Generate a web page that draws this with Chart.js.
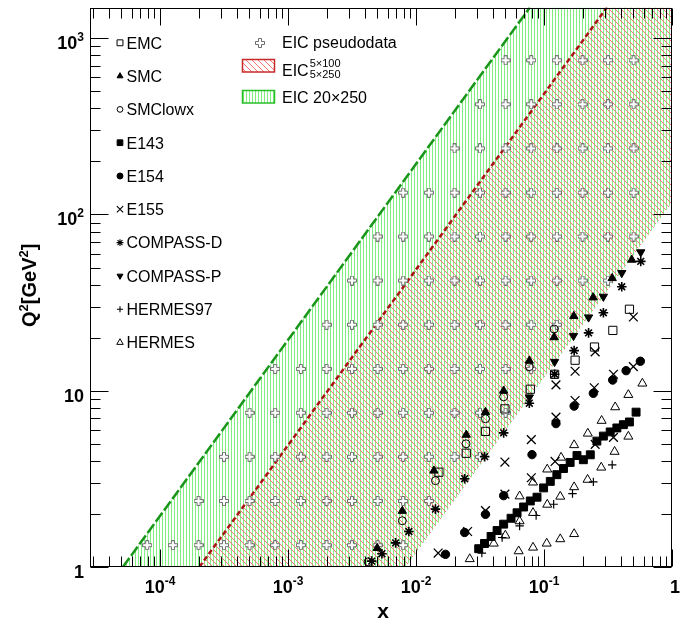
<!DOCTYPE html>
<html><head><meta charset="utf-8">
<script src="https://cdn.jsdelivr.net/npm/chart.js@4.4.1/dist/chart.umd.min.js"></script>
<style>html,body{margin:0;padding:0;background:#fff;}canvas{display:block;}</style>
</head><body>
<canvas id="c" width="695" height="626" style="width:695px;height:626px"></canvas>
<script>
// ---- axis ranges ----
const xMin = 2.84e-5, xMax = 1;
const yMin = 1, yMax = 1494;
const xTickVals = [1e-4, 1e-3, 1e-2, 1e-1, 1];
const xTickBase = ['10', '10', '10', '10', '1'];
const xTickExp  = ['-4', '-3', '-2', '-1', ''];
const yTickVals = [1, 10, 100, 1000];
const yTickBase = ['1', '10', '10', '10'];
const yTickExp  = ['', '', '2', '3'];

// ---- EIC bands (vertices) ----
const greenEdgeX = [5.13e-5, 0.0775], greenEdgeQ2 = [1, 1494];
const redEdgeX = [2.03e-4, 0.31],  redEdgeQ2 = [1, 1494];
const cornerX = [1], cornerQ2 = [1494];
const lowEdgeX = [1, 0.0083], lowEdgeQ2 = [117, 1];

// ---- EIC pseudodata grid ----
const pseudoX = [7.94e-5,1.26e-4,2.00e-4,3.16e-4,5.01e-4,7.94e-4,1.26e-3,2.00e-3,3.16e-3,5.01e-3,7.94e-3,0.0126,0.0200,0.0316,0.0501,0.0794,0.126,0.200,0.316,0.501];
const pseudoQ2 = [1.33,2.37,4.22,7.50,13.3,23.7,42.2,75.0,133,237,422,750];
const pseudoFirstCol = [0,2,3,4,5,7,8,9,10,12,13,14];
const pseudoLastCol  = [10,11,13,14,15,16,18,19,19,19,19,19];

// ---- experimental data ----
const emcX  = [0.0151,0.0247,0.0349,0.0495,0.0782,0.121,0.175,0.248,0.345,0.465];
const emcQ2 = [3.45,4.42,5.88,7.89,10.2,12.4,14.9,17.7,22.0,29.0];
const smcX  = [0.00498,0.00782,0.0138,0.0247,0.0349,0.0484,0.0768,0.120,0.171,0.242,0.341,0.485];
const smcQ2 = [1.28,2.08,3.52,5.62,7.57,10.0,14.8,20.1,26.5,33.8,43.5,55.3];
const smcLowX  = [0.00423,0.00782,0.0142,0.0246,0.0349,0.0484,0.0768,0.120];
const smcLowQ2 = [1.07,1.83,3.09,5.00,6.94,9.24,13.7,22.4];
const e143X  = [0.0309,0.0343,0.0386,0.0430,0.0484,0.0553,0.0616,0.0693,0.0782,0.0882,0.0993,0.112,0.126,0.142,0.160,0.181,0.203,0.230,0.259,0.291,0.329,0.371,0.417,0.465,0.524];
const e143Q2 = [1.27,1.36,1.49,1.61,1.75,1.89,2.03,2.19,2.37,2.49,2.81,3.06,3.34,3.62,3.92,4.29,4.06,4.33,5.18,5.53,5.84,6.15,6.42,6.65,7.56];
const e154X  = [0.0170,0.0240,0.0349,0.0484,0.0806,0.124,0.172,0.243,0.344,0.438,0.566];
const e154Q2 = [1.18,1.57,1.99,2.54,4.34,6.51,8.18,9.67,11.5,13.0,14.7];
const e155X  = [0.0149,0.0253,0.0349,0.0495,0.0495,0.0796,0.0796,0.122,0.124,0.124,0.175,0.175,0.247,0.251,0.251,0.349,0.349,0.499,0.499];
const e155Q2 = [1.20,1.59,2.09,2.59,3.94,3.21,5.28,3.97,7.09,10.8,8.80,12.9,10.4,4.96,16.6,12.4,5.44,13.7,26.2];
const compassDX  = [0.00451,0.00542,0.00693,0.00880,0.0142,0.0240,0.0344,0.0484,0.0768,0.121,0.172,0.223,0.291,0.405,0.570];
const compassDQ2 = [1.08,1.19,1.37,1.59,2.13,3.17,4.23,5.77,8.50,12.4,16.9,21.3,27.7,38.9,54.2];
const compassPX  = [0.0768,0.121,0.170,0.223,0.291,0.405,0.570];
const compassPQ2 = [9.18,14.6,20.5,26.1,34.2,46.6,61.1];
const hermes97X  = [0.0327,0.0471,0.0645,0.0868,0.119,0.167,0.243,0.341];
const hermes97Q2 = [1.20,1.47,1.71,1.96,2.27,2.61,3.04,3.80];
const hermesX  = [0.0645,0.0821,0.106,0.136,0.172,0.220,0.282,0.360,0.456,0.587,
                  0.0263,0.0405,0.0499,0.0645,0.0821,0.106,0.134,0.172,0.219,0.280,0.356,0.456,
                  0.0634,0.0821,0.105,0.134,0.172];
const hermesQ2 = [2.52,3.02,3.58,4.18,4.92,5.72,6.76,8.07,9.48,11.0,
                  1.11,1.36,1.51,1.82,2.03,2.26,2.51,2.84,3.13,3.67,4.51,5.50,
                  1.23,1.29,1.36,1.44,1.54];

// ---------------------------------------------------------------
const canvas = document.getElementById('c');
const mainCtx = canvas.getContext('2d');
function makePattern(w, h, draw) {
  const c = document.createElement('canvas'); c.width = w; c.height = h;
  draw(c.getContext('2d'));
  return mainCtx.createPattern(c, 'repeat');
}
const greenHatch = makePattern(3, 1, g => { g.fillStyle = 'rgb(130,238,130)'; g.fillRect(0, 0, 1, 1); });
const redHatch = makePattern(6, 6, g => { g.fillStyle = 'rgb(250,115,115)'; for (let i = 0; i < 6; i++) g.fillRect(i, i, 1, 1); });

const crossImg = (() => {
  const c = document.createElement('canvas'); c.width = 10; c.height = 10;
  const g = c.getContext('2d');
  const p = [[3.5,0.5],[6.5,0.5],[6.5,3.5],[9.5,3.5],[9.5,6.5],[6.5,6.5],[6.5,9.5],[3.5,9.5],[3.5,6.5],[0.5,6.5],[0.5,3.5],[3.5,3.5]];
  g.beginPath(); g.moveTo(p[0][0], p[0][1]); for (let i = 1; i < p.length; i++) g.lineTo(p[i][0], p[i][1]); g.closePath();
  g.fillStyle = '#fff'; g.fill(); g.strokeStyle = '#6e6e6e'; g.lineWidth = 1; g.stroke();
  return c;
})();

function pts(xs, qs) { return xs.map((x, i) => ({ x: x, y: qs[i] })); }
const greenPoly = pts(greenEdgeX.concat(cornerX, lowEdgeX), greenEdgeQ2.concat(cornerQ2, lowEdgeQ2));
const redPoly = pts(redEdgeX.concat(cornerX, lowEdgeX), redEdgeQ2.concat(cornerQ2, lowEdgeQ2));
const pseudoPts = [];
pseudoQ2.forEach((q, j) => { for (let i = pseudoFirstCol[j]; i <= pseudoLastCol[j]; i++) pseudoPts.push({ x: pseudoX[i], y: q }); });

const T = 'rgba(0,0,0,0)';
function exp(label, data, style, r, fill, bw, rot, legBW) {
  return { label: label, data: data, pointStyle: style, pointRadius: r, pointHoverRadius: r,
    pointRotation: rot || 0, pointBackgroundColor: fill ? '#000' : T, pointBorderColor: '#000',
    pointBorderWidth: bw, showLine: false, order: 0, legendBW: legBW || 1 };
}
const expSets = [
  exp('EMC', pts(emcX, emcQ2), 'rect', 5.8, false, 1),
  exp('SMC', pts(smcX, smcQ2), 'triangle', 4.8, true, 1),
  exp('SMClowx', pts(smcLowX, smcLowQ2), 'circle', 4, false, 1),
  exp('E143', pts(e143X, e143Q2), 'rect', 5.6, true, 1),
  exp('E154', pts(e154X, e154Q2), 'circle', 4.2, true, 1),
  exp('E155', pts(e155X, e155Q2), 'crossRot', 6.2, false, 1.3, 0, 1.1),
  exp('COMPASS-D', pts(compassDX, compassDQ2), 'star', 4.8, false, 1.6, 0, 1.1),
  exp('COMPASS-P', pts(compassPX, compassPQ2), 'triangle', 4.8, true, 1, 180),
  exp('HERMES97', pts(hermes97X, hermes97Q2), 'cross', 4.2, false, 1.2, 0, 1.1),
  exp('HERMES', pts(hermesX, hermesQ2), 'triangle', 5.2, false, 1)
];

const datasets = [
  { label: 'EIC 20×250', data: greenPoly, showLine: true, fill: 'shape', backgroundColor: greenHatch,
    borderColor: T, borderWidth: 0, pointRadius: 0, order: 10, tension: 0 },
  { label: 'EIC 5×100 / 5×250', data: redPoly, showLine: true, fill: 'shape', backgroundColor: redHatch,
    borderColor: T, borderWidth: 0, pointRadius: 0, order: 9, tension: 0 },
  { label: 'green edge', data: pts(greenEdgeX, greenEdgeQ2), showLine: true, fill: false,
    borderColor: 'rgb(25,150,25)', borderWidth: 2.5, borderDash: [11, 3], pointRadius: 0, order: 8 },
  { label: 'red edge', data: pts(redEdgeX, redEdgeQ2), showLine: true, fill: false,
    borderColor: 'rgb(170,20,20)', borderWidth: 2.5, borderDash: [5, 3], pointRadius: 0, order: 7 },
  { label: 'EIC pseudodata', data: pseudoPts, showLine: false, pointStyle: crossImg, pointRadius: 5, order: 6 }
].concat(expSets);

const FONT = '"Liberation Sans", Arial, Helvetica, sans-serif';
function drawMarker(ctx, ds, x, y, scale) {
  ctx.save();
  ctx.fillStyle = ds.pointBackgroundColor || '#000';
  ctx.strokeStyle = ds.pointBorderColor || '#000';
  ctx.lineWidth = ds.legendBW;
  Chart.helpers.drawPoint(ctx, { pointStyle: ds.pointStyle, radius: ds.pointRadius * scale,
    rotation: ds.pointRotation || 0, borderWidth: ds.legendBW }, x, y);
  ctx.restore();
}

const rootPlugin = {
  id: 'rootStyle',
  afterDraw(chart) {
    const ctx = chart.ctx, a = chart.chartArea, xs = chart.scales.x, ys = chart.scales.y;
    ctx.save();
    ctx.strokeStyle = '#000'; ctx.lineWidth = 1;
    const L = Math.round(a.left) + 0.5, R = Math.round(a.right) - 0.5, Tp = Math.round(a.top) + 0.5, B = Math.round(a.bottom) - 0.5;
    ctx.strokeRect(L, Tp, R - L, B - Tp);
    ctx.beginPath();
    for (let d = -5; d <= 0; d++) for (let m = 1; m <= 9; m++) {
      const v = m * Math.pow(10, d);
      if (v < xMin || v > xMax) continue;
      const p = Math.round(xs.getPixelForValue(v)) + 0.5;
      const len = m === 1 ? 17 : 10;
      ctx.moveTo(p, B); ctx.lineTo(p, B - len);
      ctx.moveTo(p, Tp); ctx.lineTo(p, Tp + len);
    }
    for (let d = 0; d <= 3; d++) for (let m = 1; m <= 9; m++) {
      const v = m * Math.pow(10, d);
      if (v < yMin || v > yMax) continue;
      const p = Math.round(ys.getPixelForValue(v)) + 0.5;
      const len = m === 1 ? 18 : 10;
      ctx.moveTo(L, p); ctx.lineTo(L + len, p);
      ctx.moveTo(R, p); ctx.lineTo(R - len, p);
    }
    ctx.stroke();

    // tick labels
    const baseF = '700 18px ' + FONT, expF = '700 12px ' + FONT;
    ctx.fillStyle = '#000'; ctx.textBaseline = 'alphabetic'; ctx.textAlign = 'left';
    xTickVals.forEach((v, i) => {
      const p = xs.getPixelForValue(v);
      ctx.font = baseF; const wb = ctx.measureText(xTickBase[i]).width;
      ctx.font = expF; const we = xTickExp[i] ? ctx.measureText(xTickExp[i]).width : 0;
      const x0 = p - (wb + we) / 2 + (xTickExp[i] ? 0 : 3);
      ctx.font = baseF; ctx.fillText(xTickBase[i], x0, a.bottom + 26);
      if (xTickExp[i]) { ctx.font = expF; ctx.fillText(xTickExp[i], x0 + wb, a.bottom + 18); }
    });
    yTickVals.forEach((v, i) => {
      const p = ys.getPixelForValue(v);
      ctx.font = baseF; const wb = ctx.measureText(yTickBase[i]).width;
      ctx.font = expF; const we = yTickExp[i] ? ctx.measureText(yTickExp[i]).width : 0;
      const right = 84;
      ctx.font = baseF; ctx.fillText(yTickBase[i], right - we - wb, p + 11);
      if (yTickExp[i]) { ctx.font = expF; ctx.fillText(yTickExp[i], right - we, p + 3); }
    });

    // axis titles
    ctx.font = '700 21px ' + FONT; ctx.textAlign = 'center';
    ctx.fillText('x', 383, 618);
    ctx.save();
    ctx.translate(36, 327); ctx.rotate(-Math.PI / 2);
    ctx.textAlign = 'left';
    const parts = [['Q', 0], ['2', 1], ['[GeV', 0], ['2', 1], [']', 0]];
    let cx = 0;
    parts.forEach(pp => {
      ctx.font = pp[1] ? '700 13px ' + FONT : '700 20px ' + FONT;
      ctx.fillText(pp[0], cx, pp[1] ? -8 : 0);
      cx += ctx.measureText(pp[0]).width;
    });
    ctx.restore();

    // legend, left column
    ctx.textAlign = 'left';
    expSets.forEach((ds, i) => {
      const yy = 42.8 + i * 33.3;
      drawMarker(ctx, ds, 120, yy, 0.72);
      ctx.fillStyle = '#000'; ctx.font = '16px ' + FONT;
      ctx.fillText(ds.label, 126.5, yy + 5.8);
    });

    // legend, right column
    ctx.drawImage(crossImg, 255, 38);
    ctx.fillStyle = '#000'; ctx.font = '16px ' + FONT;
    ctx.fillText('EIC pseudodata', 282, 47.5);
    ctx.fillStyle = '#fff'; ctx.fillRect(242, 59, 33, 13);
    ctx.fillStyle = redHatch; ctx.fillRect(242, 59, 33, 13);
    ctx.strokeStyle = 'rgb(200,40,40)'; ctx.lineWidth = 1.5; ctx.strokeRect(242.5, 59.5, 32, 12.5);
    ctx.fillStyle = '#000'; ctx.font = '16px ' + FONT;
    ctx.fillText('EIC', 282, 76);
    const wEIC = ctx.measureText('EIC').width;
    ctx.font = '11px ' + FONT;
    ctx.fillText('5×100', 282 + wEIC + 1, 67);
    ctx.fillText('5×250', 282 + wEIC + 1, 77.5);
    ctx.fillStyle = '#fff'; ctx.fillRect(242, 90, 33, 13);
    ctx.fillStyle = greenHatch; ctx.fillRect(242, 90, 33, 13);
    ctx.strokeStyle = 'rgb(40,190,40)'; ctx.lineWidth = 1.5; ctx.strokeRect(242.5, 90.5, 32, 12.5);
    ctx.fillStyle = '#000'; ctx.font = '16px ' + FONT;
    ctx.fillText('EIC 20×250', 282, 103);
    ctx.restore();
  }
};

new Chart(canvas, {
  type: 'scatter',
  data: { datasets: datasets },
  options: {
    responsive: false, animation: false, devicePixelRatio: 1, events: [],
    layout: { padding: { left: 90, right: 23, top: 3, bottom: 59 } },
    plugins: { legend: { display: false }, tooltip: { enabled: false }, title: { display: false } },
    scales: {
      x: { type: 'logarithmic', min: xMin, max: xMax, display: false },
      y: { type: 'logarithmic', min: yMin, max: yMax, display: false }
    }
  },
  plugins: [rootPlugin]
});
</script>
</body></html>
